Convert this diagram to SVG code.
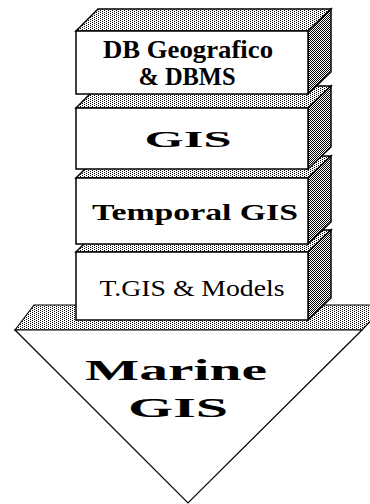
<svg xmlns="http://www.w3.org/2000/svg" width="370" height="504" viewBox="0 0 370 504">
  <defs>
    <!-- light stipple for top faces -->
    <pattern id="dotsLight" width="4" height="4" patternUnits="userSpaceOnUse">
      <rect width="4" height="4" fill="#fff"/>
      <rect x="0" y="0" width="1" height="1" fill="#000"/>
      <rect x="2" y="1" width="1" height="1" fill="#000"/>
      <rect x="0" y="2" width="1" height="1" fill="#000"/>
      <rect x="2" y="3" width="1" height="1" fill="#000"/>
    </pattern>
    <!-- dense stipple for side faces -->
    <pattern id="dotsDark" width="2" height="2" patternUnits="userSpaceOnUse">
      <rect width="2" height="2" fill="#fff"/>
      <rect x="0" y="0" width="1" height="1" fill="#000"/>
      <rect x="1" y="1" width="1" height="1" fill="#000"/>
    </pattern>
  </defs>
  <style>
    .edge { stroke: #000; stroke-width: 1.5; stroke-linejoin: miter; }
    .thin { stroke-width: 1.2; }
    .front { fill: #fff; }
    .top { fill: url(#dotsLight); }
    .side { fill: url(#dotsDark); }
    .lbl { font-family: "Liberation Serif", "Times New Roman", serif; fill: #000; text-anchor: middle; }
    .b { font-weight: bold; }
  </style>

  <rect width="370" height="504" fill="#fff"/>

  <!-- base arrowhead -->
  <g id="marine-gis">
    <polygon class="top edge thin" points="15,330 34,305 386,305 362,330"/>
    <polygon class="front edge thin" points="15,330 362,330 188,503"/>
    <text class="lbl b" x="176" y="380" font-size="30" textLength="182" lengthAdjust="spacingAndGlyphs">Marine</text>
    <text class="lbl b" x="178" y="417" font-size="28" textLength="100" lengthAdjust="spacingAndGlyphs">GIS</text>
  </g>

  <!-- layer 4 -->
  <g id="tgis-models">
    <polygon class="top edge" points="76,252 98,230 331,230 308,252"/>
    <polygon class="side edge" points="308,252 331,230 331,298 308,320"/>
    <rect class="front edge" x="76" y="252" width="232" height="68"/>
    <text class="lbl" x="192" y="296" font-size="24" textLength="185" lengthAdjust="spacingAndGlyphs">T.GIS &amp; Models</text>
  </g>

  <!-- layer 3 -->
  <g id="temporal-gis">
    <polygon class="top edge" points="76,178 98,156 331,156 308,178"/>
    <polygon class="side edge" points="308,178 331,156 331,222 308,244"/>
    <rect class="front edge" x="76" y="178" width="232" height="66"/>
    <text class="lbl b" x="195" y="220" font-size="24" textLength="206" lengthAdjust="spacingAndGlyphs">Temporal GIS</text>
  </g>

  <!-- layer 2 -->
  <g id="gis">
    <polygon class="top edge" points="76,108 98,86 331,86 308,108"/>
    <polygon class="side edge" points="308,108 331,86 331,147 308,169"/>
    <rect class="front edge" x="76" y="108" width="232" height="61"/>
    <text class="lbl b" x="188" y="147" font-size="23" textLength="87" lengthAdjust="spacingAndGlyphs">GIS</text>
  </g>

  <!-- layer 1 -->
  <g id="db-geografico">
    <polygon class="top edge" points="76,31 98,9 331,9 308,31"/>
    <polygon class="side edge" points="308,31 331,9 331,72 308,94"/>
    <rect class="front edge" x="76" y="31" width="232" height="63"/>
    <text class="lbl b" x="188" y="58" font-size="26" textLength="170" lengthAdjust="spacingAndGlyphs">DB Geografico</text>
    <text class="lbl b" x="187" y="85" font-size="26" textLength="97" lengthAdjust="spacingAndGlyphs">&amp; DBMS</text>
  </g>

  <g id="connectors"/>
</svg>
